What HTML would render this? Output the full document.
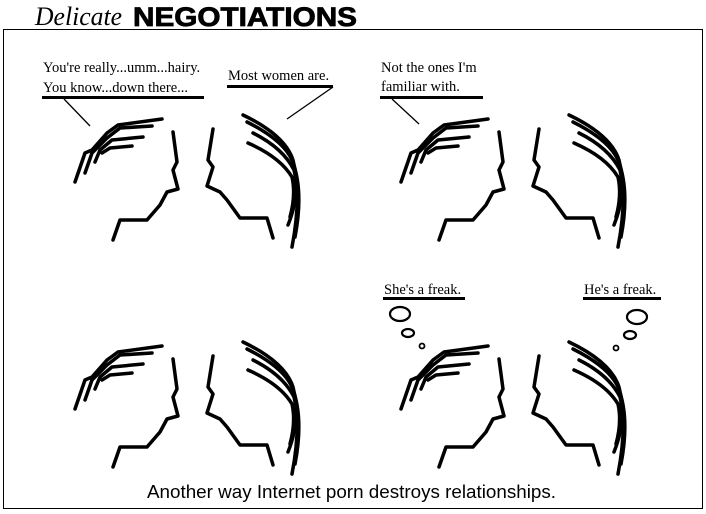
<!DOCTYPE html>
<html><head><meta charset="utf-8"><style>
html,body{margin:0;padding:0;background:#fff;width:706px;height:514px;overflow:hidden}
</style></head><body>
<svg width="706" height="514" viewBox="0 0 706 514" xmlns="http://www.w3.org/2000/svg">
<defs>
<g id="f" fill="none" stroke="#000" stroke-width="3.5" stroke-linejoin="round" stroke-linecap="round">
 <polyline points="75,182 85,153 92,150 107,133 118,125 162,119"/>
 <polyline points="85,173 92,153 107,138 120,128 152,126"/>
 <polyline points="95,162 100,150 112,140 143,137"/>
 <polyline points="102,153 110,148 132,146"/>
 <polyline points="173,132 177,162 173,170 178,189 167,192 160,205 147,220 120,220 113,240"/>
 <polyline points="213,129 208,160 213,167 207,186 220,192 227,200 240,218 267,218 273,238"/>
 <path d="M243,115 Q285,135 293,160 Q302,195 292,247"/>
 <path d="M247,122 Q283,140 292,160 Q304,190 295,237"/>
 <path d="M253,133 Q283,148 294,170 Q300,195 288,225"/>
 <path d="M248,143 Q280,157 292,177 Q296,195 290,217"/>
</g>
</defs>
<text x="35" y="25" font-family="Liberation Serif, serif" font-style="italic" font-size="26" fill="#000" textLength="87" lengthAdjust="spacingAndGlyphs">Delicate</text>
<text x="133" y="26" font-family="Liberation Sans, sans-serif" font-weight="bold" font-size="27" fill="#000" stroke="#000" stroke-width="0.8" textLength="224" lengthAdjust="spacingAndGlyphs">NEGOTIATIONS</text>
<rect x="3.5" y="29.5" width="699" height="479" fill="none" stroke="#000" stroke-width="1"/>
<use href="#f"/>
<use href="#f" transform="translate(326,0)"/>
<use href="#f" transform="translate(0,227)"/>
<use href="#f" transform="translate(326,227)"/>
<g font-family="Liberation Serif, serif" font-size="14.5" fill="#000">
 <text x="43" y="72">You're really...umm...hairy.</text>
 <text x="43" y="92">You know...down there...</text>
 <text x="228" y="80">Most women are.</text>
 <text x="381" y="72">Not the ones I'm</text>
 <text x="381" y="91">familiar with.</text>
 <text x="384" y="294">She's a freak.</text>
 <text x="584" y="294">He's a freak.</text>
</g>
<g stroke="#000" fill="none">
 <line x1="42" y1="97.5" x2="204" y2="97.5" stroke-width="3"/>
 <line x1="227" y1="86.5" x2="333" y2="86.5" stroke-width="3"/>
 <line x1="380" y1="97.5" x2="483" y2="97.5" stroke-width="3"/>
 <line x1="383" y1="298.5" x2="465" y2="298.5" stroke-width="3"/>
 <line x1="583" y1="298.5" x2="661" y2="298.5" stroke-width="3"/>
 <line x1="64" y1="99" x2="90" y2="126" stroke-width="1.3"/>
 <line x1="333" y1="87" x2="287" y2="119" stroke-width="1.3"/>
 <line x1="392" y1="99" x2="419" y2="124" stroke-width="1.3"/>
 <ellipse cx="400" cy="314" rx="10" ry="7" stroke-width="2.2"/>
 <ellipse cx="408" cy="333" rx="6" ry="4" stroke-width="2.2"/>
 <circle cx="422" cy="346" r="2.5" stroke-width="1.8"/>
 <ellipse cx="637" cy="317" rx="10" ry="7" stroke-width="2.2"/>
 <ellipse cx="630" cy="335" rx="6" ry="4" stroke-width="2.2"/>
 <circle cx="616" cy="348" r="2.5" stroke-width="1.8"/>
</g>
<text x="147" y="498" font-family="Liberation Sans, sans-serif" font-size="18" fill="#000" textLength="409" lengthAdjust="spacingAndGlyphs">Another way Internet porn destroys relationships.</text>
</svg>
</body></html>
